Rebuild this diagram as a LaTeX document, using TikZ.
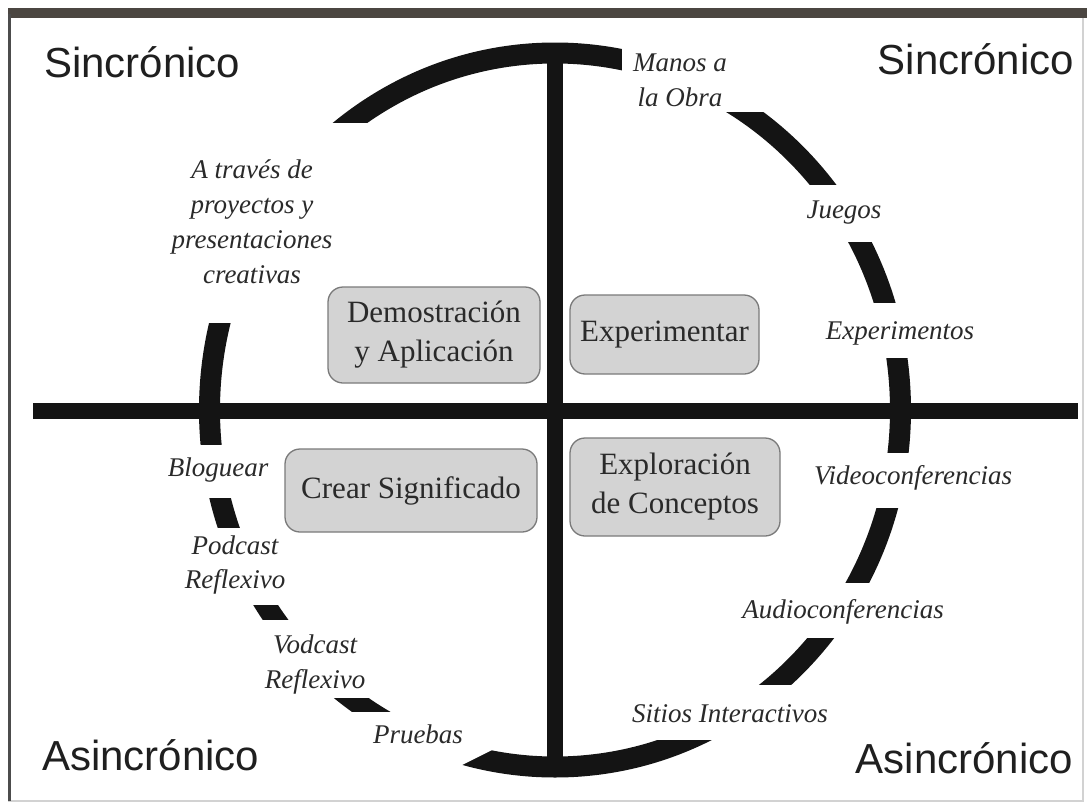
\documentclass[tikz,border=0pt]{standalone}
\usepackage{fontspec}
\setmainfont{Liberation Serif}
\newfontfamily\cornerfont{Liberation Sans}
\definecolor{bandcol}{HTML}{4B4641}
\definecolor{boxfill}{HTML}{D3D3D3}
\definecolor{boxline}{HTML}{7A7A7A}
\definecolor{txt}{HTML}{2A2A2A}
\begin{document}
\begin{tikzpicture}[x=1pt,y=-1pt,
  ring/.style={line width=21pt, black!92},
  axis/.style={line width=16.5pt, black!92},
  mask/.style={fill=white, draw=none},
  quad/.style={draw=boxline, line width=1.3pt, fill=boxfill, rounded corners=15pt,
    inner sep=0pt, align=center, text=txt, font=\fontsize{31}{39}\selectfont},
  lbl/.style={inner sep=0pt, align=center, text=txt, font=\itshape\fontsize{27}{35}\selectfont},
  corner/.style={inner sep=0pt, text=black!88, font=\cornerfont\fontsize{42}{50}\selectfont}
]
\useasboundingbox (0,0) rectangle (1087,803);
\fill[white] (0,0) rectangle (1087,803);
% frame
\draw[gray!35, line width=1.5pt] (9,14) rectangle (1083,801);
\fill[bandcol] (8,8) rectangle (1087,18);
\fill[black!70] (8,14) rectangle (11,801);

% ring
\coordinate (O) at (555,410);
\draw[ring] (O) ellipse [x radius=345.5pt, y radius=357pt];

% gaps in the ring behind the labels
\fill[mask] (622,20) rectangle (800,112);
\fill[mask] (770,185) rectangle (960,242);
\fill[mask] (790,303) rectangle (1000,358);
\fill[mask] (790,453) rectangle (1030,508);
\fill[mask] (720,583) rectangle (960,638);
\fill[mask] (600,685) rectangle (850,740);
\fill[mask] (330,712) -- (500,712) -- (500,746) -- (456,768) -- (330,768) -- cycle;
\fill[mask] (225,620) rectangle (410,698);
\fill[mask] (150,528) rectangle (320,605);
\fill[mask] (140,445) rectangle (280,498);
\fill[mask] (140,123) rectangle (420,285);
\fill[mask] (140,280) rectangle (300,323);

% axes
\coordinate (hl) at (33,411);
\coordinate (hr) at (1078,411);
\coordinate (vt) at (555,45);
\coordinate (vb) at (555,765);
\draw[axis] (hl) -- (hr);
\draw[axis] (vt) -- (vb);

% quadrant boxes
\node[quad, minimum width=212pt, minimum height=96pt] (demo) at (434,335) {Demostración\\y Aplicación};
\node[quad, minimum width=252pt, minimum height=83pt] (crear) at (411,490.5) {Crear Significado};
\node[quad, minimum width=189pt, minimum height=79pt] (exper) at (664.5,334.5) {Experimentar};
\node[quad, minimum width=210pt, minimum height=98pt] (explor) at (675,487) {Exploración\\de Conceptos};

% ring labels
\node[lbl] (manos) at (680,80) {Manos a\\la Obra};
\node[lbl] (juegos) at (844,213) {Juegos};
\node[lbl] (experim) at (900,333) {Experimentos};
\node[lbl] (video) at (913,478) {Videoconferencias};
\node[lbl] (audio) at (843,612) {Audioconferencias};
\node[lbl] (sitios) at (730,714) {Sitios Interactivos};
\node[lbl] (pruebas) at (418,734) {Pruebas};
\node[lbl] (vodcast) at (315,664) {Vodcast\\Reflexivo};
\node[lbl] (podcast) at (235,565) {Podcast\\Reflexivo};
\node[lbl] (blog) at (218,470) {Bloguear};
\node[lbl] (traves) at (252,222) {A través de\\proyectos y\\presentaciones\\creativas};

% corner labels
\node[corner, anchor=base west] (s1) at (44,77) {Sincrónico};
\node[corner, anchor=base east] (s2) at (1074,74) {Sincrónico};
\node[corner, anchor=base west] (a1) at (42,770) {Asincrónico};
\node[corner, anchor=base east] (a2) at (1073,773) {Asincrónico};
\end{tikzpicture}
\end{document}
